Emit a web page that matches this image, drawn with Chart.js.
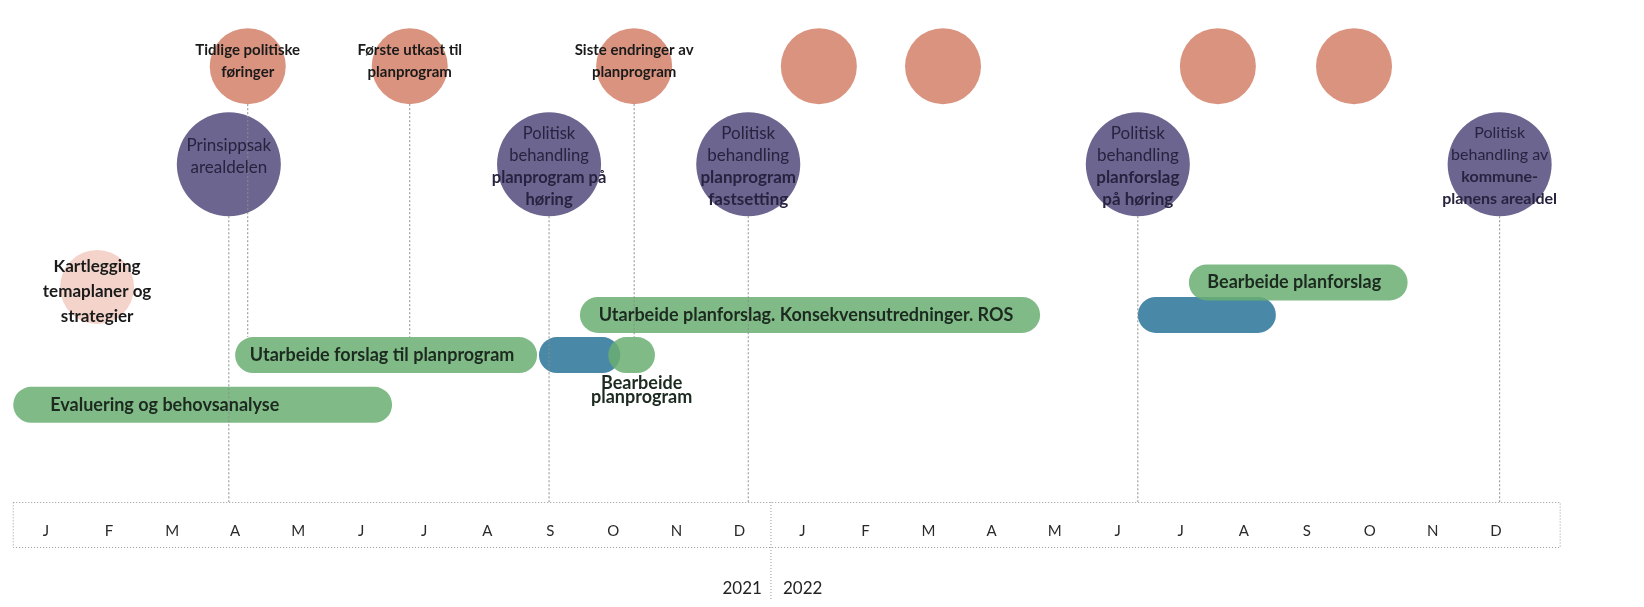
<!DOCTYPE html>
<html>
<head>
<meta charset="utf-8">
<script src="https://cdn.jsdelivr.net/npm/chart.js@4.4.1/dist/chart.umd.min.js"></script>
<style>
  html, body { margin: 0; padding: 0; background: #fff; }
  #wrap { width: 1644px; height: 607px; position: relative; }
</style>
</head>
<body>
<div id="wrap"><canvas id="plan"></canvas></div>
<script>
// x = months counted from January 2021 (0 = J 2021, 12 = J 2022)
const months = ['J','F','M','A','M','J','J','A','S','O','N','D','J','F','M','A','M','J','J','A','S','O','N','D'];
const years = ['2021', '2022'];

// green work phases
const phaseLabels = ['Evaluering og behovsanalyse', 'Utarbeide forslag til planprogram', 'Bearbeide planprogram',
  'Utarbeide planforslag. Konsekvensutredninger. ROS', 'Bearbeide planforslag'];
const phaseStart = [-0.52, 3.0, 8.92, 8.47, 18.13];
const phaseEnd = [5.49, 7.79, 9.66, 15.77, 21.6];
const phaseRow = [1.63, 2.72, 2.72, 3.6, 4.31];

// blue hearing periods
const hearingStart = [7.82, 17.32];
const hearingEnd = [9.11, 19.51];
const hearingRow = [2.72, 3.6];

// orange milestones (top row)
const workshopLabels = [['Tidlige politiske', 'føringer'], ['Første utkast til', 'planprogram'],
  ['Siste endringer av', 'planprogram'], [], [], [], []];
const workshopX = [3.2, 5.77, 9.33, 12.26, 14.23, 18.59, 20.75];
const workshopRow = 9.05;
const workshopLineTo = [2.72, 2.72, 2.72, null, null, null, null];

// purple political decisions
const decisionNormal = [['Prinsippsak', 'arealdelen'], ['Politisk', 'behandling'], ['Politisk', 'behandling'],
  ['Politisk', 'behandling'], ['Politisk', 'behandling av']];
const decisionBold = [[], ['planprogram på', 'høring'], ['planprogram', 'fastsetting'],
  ['planforslag', 'på høring'], ['kommune-', 'planens arealdel']];
const decisionX = [2.9, 7.98, 11.14, 17.32, 23.06];
const decisionRow = 6.9;

// start-up circle
const startLabel = ['Kartlegging', 'temaplaner og', 'strategier'];
const startX = 0.81;
const startRow = 4.21;

const FONT = 'Lato';
Chart.defaults.font.family = FONT;

const ORANGE_R = 38, PURPLE_R = 52, START_R = 37, BAR_H = 36;

function textLines(ctx, lines, x, yMid, lineH) {
  const top = yMid - (lines.length - 1) * lineH / 2;
  lines.forEach((ln, i) => {
    ctx.font = (ln.bold ? 'bold ' : '') + ln.size + 'px ' + FONT;
    ctx.fillText(ln.text, x, top + i * lineH);
  });
}

const timelinePlugin = {
  id: 'timeline',
  afterDatasetsDraw(chart) {
    const ctx = chart.ctx;
    const xs = chart.scales.x, ys = chart.scales.y;
    const bottom = chart.chartArea.bottom;
    ctx.save();

    // month box + year divider
    ctx.strokeStyle = '#9a9a9a';
    ctx.lineWidth = 1;
    ctx.setLineDash([1, 2]);
    const bx0 = xs.getPixelForValue(-0.52), bx1 = xs.getPixelForValue(24.02);
    ctx.strokeRect(bx0, bottom + 0.5, bx1 - bx0, 45);
    const div = xs.getPixelForValue(11.5);
    ctx.beginPath();
    ctx.moveTo(div, bottom);
    ctx.lineTo(div, bottom + 97);
    ctx.stroke();

    // connector lines
    ctx.strokeStyle = '#8c8c8c';
    ctx.setLineDash([2, 2]);
    workshopX.forEach((v, i) => {
      if (workshopLineTo[i] === null) return;
      const px = xs.getPixelForValue(v);
      ctx.beginPath();
      ctx.moveTo(px, ys.getPixelForValue(workshopRow) + ORANGE_R);
      ctx.lineTo(px, ys.getPixelForValue(workshopLineTo[i]) - BAR_H / 2);
      ctx.stroke();
    });
    decisionX.forEach(v => {
      const px = xs.getPixelForValue(v);
      ctx.beginPath();
      ctx.moveTo(px, ys.getPixelForValue(decisionRow) + PURPLE_R);
      ctx.lineTo(px, bottom);
      ctx.stroke();
    });
    ctx.setLineDash([]);

    // years
    ctx.fillStyle = '#222';
    ctx.font = '17px ' + FONT;
    ctx.textBaseline = 'middle';
    ctx.textAlign = 'right';
    ctx.fillText(years[0], div - 9, bottom + 87);
    ctx.textAlign = 'left';
    ctx.fillText(years[1], div + 12, bottom + 87);

    // orange labels
    ctx.textAlign = 'center';
    ctx.fillStyle = '#1a1a1a';
    workshopX.forEach((v, i) => {
      const lines = workshopLabels[i].map(t => ({ text: t, bold: true, size: 15 }));
      textLines(ctx, lines, xs.getPixelForValue(v), ys.getPixelForValue(workshopRow) - 5, 22);
    });

    // purple labels, shrink to fit
    ctx.fillStyle = '#27233f';
    decisionX.forEach((v, i) => {
      let size = 17;
      const all = decisionNormal[i].map(t => [t, false]).concat(decisionBold[i].map(t => [t, true]));
      const widest = s => Math.max(...all.map(([t, b]) => {
        ctx.font = (b ? 'bold ' : '') + s + 'px ' + FONT;
        return ctx.measureText(t).width;
      }));
      while (widest(size) > 116 && size > 12) size -= 0.5;
      const lines = all.map(([t, b]) => ({ text: t, bold: b, size }));
      const yMid = ys.getPixelForValue(decisionRow) + (i === 0 ? -8 : 2);
      textLines(ctx, lines, xs.getPixelForValue(v), yMid, 22);
    });

    // start-up label
    ctx.fillStyle = '#1a1a1a';
    textLines(ctx, startLabel.map(t => ({ text: t, bold: true, size: 17 })),
      xs.getPixelForValue(startX), ys.getPixelForValue(startRow) + 4, 25);

    // phase labels
    ctx.fillStyle = '#1c2a1f';
    phaseLabels.forEach((label, i) => {
      const x0 = xs.getPixelForValue(phaseStart[i]), x1 = xs.getPixelForValue(phaseEnd[i]);
      const y = ys.getPixelForValue(phaseRow[i]);
      ctx.font = 'bold 18px ' + FONT;
      if (ctx.measureText(label).width > x1 - x0) {
        ctx.textAlign = 'center';
        const words = label.split(' ');
        textLines(ctx, words.map(t => ({ text: t, bold: true, size: 18 })), (x0 + x1) / 2 + 10, y + BAR_H / 2 + 17, 14);
      } else if (i === 0) {
        ctx.textAlign = 'left';
        ctx.fillText(label, x0 + 37, y);
      } else {
        ctx.textAlign = 'center';
        ctx.fillText(label, (x0 + x1) / 2 - 4, y);
      }
    });
    ctx.restore();
  }
};

const barOpts = {
  type: 'bar', indexAxis: 'y', grouped: false, borderRadius: BAR_H / 2, borderSkipped: false,
  borderWidth: 0, categoryPercentage: 1, barPercentage: 10, maxBarThickness: BAR_H
};
const dotOpts = { type: 'scatter', showLine: false, borderWidth: 0, clip: false };

new Chart(document.getElementById('plan'), {
  data: {
    datasets: [
      Object.assign({}, barOpts, {
        label: 'Arbeid',
        data: phaseStart.map((s, i) => ({ x: [s, phaseEnd[i]], y: phaseRow[i] })),
        backgroundColor: 'rgba(106,175,114,0.85)', order: 1
      }),
      Object.assign({}, barOpts, {
        label: 'Høring',
        data: hearingStart.map((s, i) => ({ x: [s, hearingEnd[i]], y: hearingRow[i] })),
        backgroundColor: '#4a88a7', order: 2
      }),
      Object.assign({}, dotOpts, {
        label: 'Verksted',
        data: workshopX.map(v => ({ x: v, y: workshopRow })),
        pointRadius: ORANGE_R, pointHoverRadius: ORANGE_R, backgroundColor: '#d9937f', order: 3
      }),
      Object.assign({}, dotOpts, {
        label: 'Politisk behandling',
        data: decisionX.map(v => ({ x: v, y: decisionRow })),
        pointRadius: PURPLE_R, pointHoverRadius: PURPLE_R, backgroundColor: '#6c6590', order: 3
      }),
      Object.assign({}, dotOpts, {
        label: 'Oppstart',
        data: [{ x: startX, y: startRow }],
        pointRadius: START_R, pointHoverRadius: START_R, backgroundColor: '#f4d4ca', order: 3
      })
    ]
  },
  options: {
    responsive: true,
    maintainAspectRatio: false,
    animation: false,
    events: [],
    layout: { autoPadding: false, padding: { top: 0, left: 0, right: 0, bottom: 47 } },
    plugins: { legend: { display: false }, tooltip: { enabled: false } },
    scales: {
      x: {
        type: 'linear', min: -0.73, max: 25.35,
        afterBuildTicks: s => { s.ticks = months.map((m, i) => ({ value: i })); },
        ticks: {
          autoSkip: false, maxRotation: 0, padding: 20, color: '#2a2a2a',
          font: { size: 15 }, callback: v => months[v]
        },
        grid: { display: false, drawTicks: false },
        border: { display: false }
      },
      y: { type: 'linear', min: 0, max: 10, display: false }
    }
  },
  plugins: [timelinePlugin]
});
</script>
</body>
</html>
